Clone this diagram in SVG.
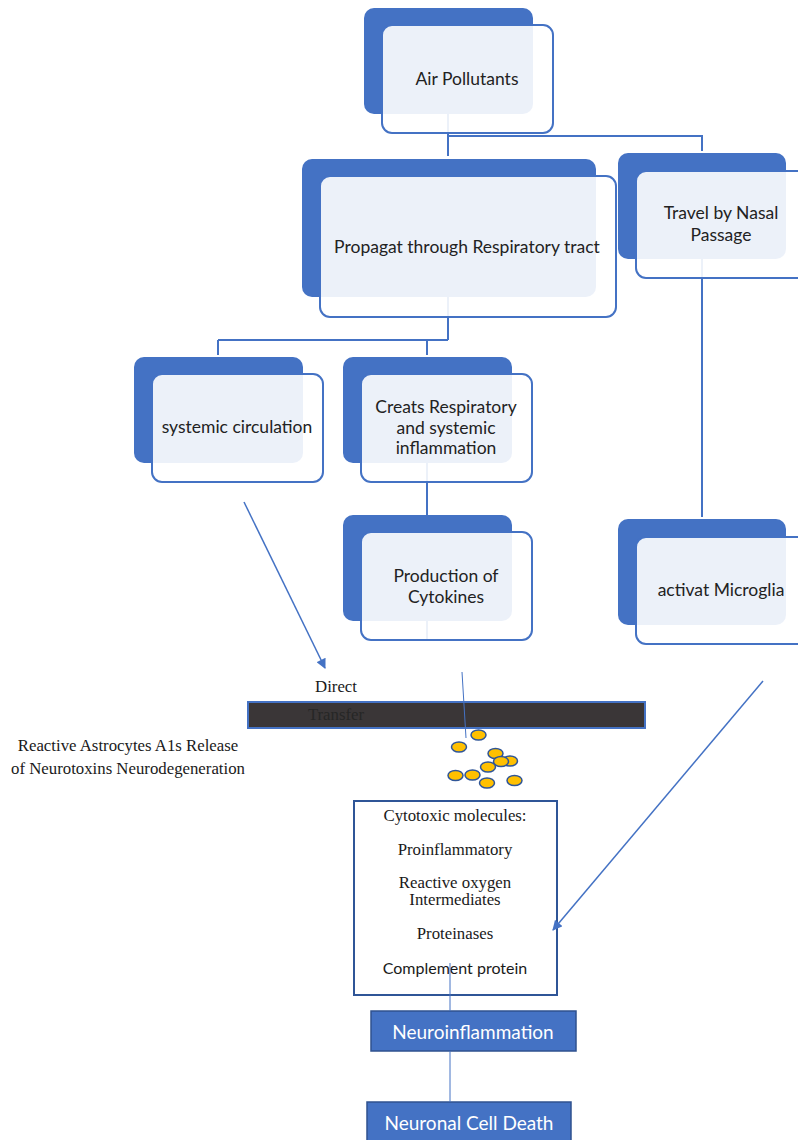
<svg xmlns="http://www.w3.org/2000/svg" width="798" height="1140" viewBox="0 0 798 1140">
<defs>
<marker id="ah" viewBox="0 0 10 10" refX="9" refY="5" markerWidth="11" markerHeight="10" markerUnits="userSpaceOnUse" orient="auto">
<path d="M0,0 L10,5 L0,10 z" fill="#4472C4"/>
</marker>
<style>
.dk{fill:#4472C4;}
.lt{fill:#ffffff;fill-opacity:0.9;stroke:#4472C4;stroke-width:2;}
.nt{font-family:Lato,"Liberation Sans",sans-serif;font-size:17.5px;fill:#222222;text-anchor:middle;}
.sf{font-family:"Liberation Serif",serif;font-size:16.8px;fill:#1a1a1a;text-anchor:middle;}
.cn{fill:none;stroke:#4472C4;stroke-width:2;}
.thin{fill:none;stroke:#4472C4;stroke-width:1;}
.ar{fill:none;stroke:#4472C4;stroke-width:1.5;}
.dot{fill:#FFC000;stroke:#2F5597;stroke-width:1.5;}
.bx{fill:#4472C4;stroke:#2F528F;stroke-width:1.5;}
.wt{font-family:Lato,"Liberation Sans",sans-serif;font-size:19px;fill:#ffffff;text-anchor:middle;}
</style>
</defs>
<rect width="798" height="1140" fill="#ffffff"/>

<g id="transfer-bar">
<rect x="248" y="702" width="397" height="26" fill="#3A3637" stroke="#4472C4" stroke-width="2"/>
<text x="336" y="720" class="sf" style="fill:#262626">Transfer</text>
</g>
<g id="direct-label"><text x="336" y="692" class="sf">Direct</text></g>
<g id="astrocytes-label">
<text x="128" y="751" class="sf">Reactive Astrocytes A1s Release</text>
<text x="128" y="774" class="sf">of Neurotoxins Neurodegeneration</text>
</g>
<g id="cytokine-dots">
<ellipse class="dot" cx="478.5" cy="735" rx="7.5" ry="5"/>
<ellipse class="dot" cx="459" cy="747" rx="7.5" ry="5"/>
<ellipse class="dot" cx="510" cy="761" rx="7.5" ry="5"/>
<ellipse class="dot" cx="495.5" cy="753.5" rx="7.5" ry="5"/>
<ellipse class="dot" cx="501" cy="761.5" rx="7.5" ry="5"/>
<ellipse class="dot" cx="488" cy="767" rx="7.5" ry="5"/>
<ellipse class="dot" cx="455.5" cy="775.5" rx="7.5" ry="5"/>
<ellipse class="dot" cx="472.5" cy="775" rx="7.5" ry="5"/>
<ellipse class="dot" cx="487" cy="783" rx="7.5" ry="5"/>
<ellipse class="dot" cx="514.5" cy="780.5" rx="7.5" ry="5"/>
</g>
<g id="cytotoxic-box">
<rect x="354" y="801" width="203" height="194" fill="#ffffff" stroke="#2F5597" stroke-width="2"/>
<text x="455" y="821" class="sf">Cytotoxic molecules:</text>
<text x="455" y="855" class="sf">Proinflammatory</text>
<text x="455" y="888" class="sf">Reactive oxygen</text>
<text x="455" y="905" class="sf">Intermediates</text>
<text x="455" y="939" class="sf">Proteinases</text>
<text x="455" y="974" class="nt" style="font-size:16px;fill:#1a1a1a">Complement protein</text>
</g>
<g id="neuroinflammation">
<rect class="bx" x="371" y="1011" width="205" height="40"/>
<text x="473" y="1039" class="wt">Neuroinflammation</text>
</g>
<g id="neuronal-cell-death">
<rect class="bx" x="367" y="1102" width="204" height="45"/>
<text x="469" y="1130" class="wt">Neuronal Cell Death</text>
</g>

<g id="connectors">
<path class="cn" d="M448,114 V156 M448,136 H702 V151"/>
<path class="cn" d="M448,297 V340 M218,340 H448 M218,340 V355 M427,340 V355"/>
<path class="cn" d="M427,463 V515"/>
<path class="cn" d="M427,621 V641"/>
<path class="cn" d="M702,259 V517"/>
<path class="ar" d="M244,502 L325,668" marker-end="url(#ah)"/>
<path class="ar" d="M763,681 L553,930" marker-end="url(#ah)"/>
<path class="thin" d="M462,672 L466,738"/>
<path class="thin" d="M450,963 V1011"/>
<path class="thin" d="M450,1051 V1102"/>
</g>

<g id="air-pollutants">
<rect class="dk" x="364" y="8" width="169" height="106" rx="10"/>
<rect class="lt" x="382" y="25" width="171" height="108" rx="10"/>
<text x="467" y="85" class="nt">Air Pollutants</text>
</g>
<g id="respiratory-tract">
<rect class="dk" x="302" y="159" width="294" height="138" rx="10"/>
<rect class="lt" x="320" y="176" width="296" height="141" rx="10"/>
<text x="467" y="253" class="nt">Propagat through Respiratory tract</text>
</g>
<g id="nasal-passage">
<rect class="dk" x="618" y="153" width="168" height="106" rx="10"/>
<rect class="lt" x="636" y="171" width="175" height="107" rx="10"/>
<text x="721" y="219" class="nt">Travel by Nasal</text>
<text x="721" y="241" class="nt">Passage</text>
</g>
<g id="systemic-circulation">
<rect class="dk" x="134" y="357" width="169" height="106" rx="10"/>
<rect class="lt" x="152" y="374" width="171" height="108" rx="10"/>
<text x="237" y="433" class="nt">systemic circulation</text>
</g>
<g id="inflammation">
<rect class="dk" x="343" y="357" width="169" height="106" rx="10"/>
<rect class="lt" x="361" y="374" width="171" height="108" rx="10"/>
<text x="446" y="413" class="nt">Creats Respiratory</text>
<text x="446" y="434" class="nt">and systemic</text>
<text x="446" y="454" class="nt">inflammation</text>
</g>
<g id="cytokines">
<rect class="dk" x="343" y="515" width="169" height="106" rx="10"/>
<rect class="lt" x="361" y="532" width="171" height="108" rx="10"/>
<text x="446" y="582" class="nt">Production of</text>
<text x="446" y="603" class="nt">Cytokines</text>
</g>
<g id="microglia">
<rect class="dk" x="618" y="519" width="168" height="106" rx="10"/>
<rect class="lt" x="636" y="537" width="175" height="107" rx="10"/>
<text x="721" y="596" class="nt">activat Microglia</text>
</g>
</svg>
